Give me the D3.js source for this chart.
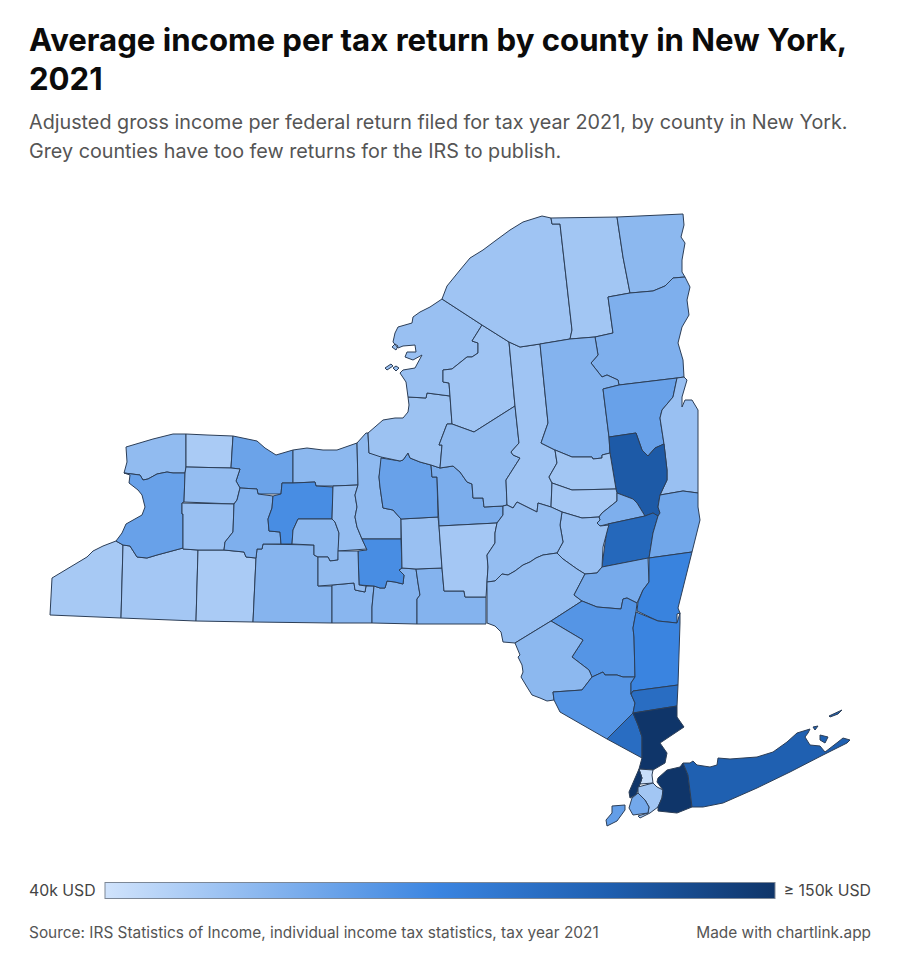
<!DOCTYPE html>
<html>
<head>
<meta charset="utf-8">
<title>Average income per tax return by county in New York, 2021</title>
<script src="https://cdnjs.cloudflare.com/ajax/libs/d3/7.8.5/d3.min.js"></script>
<style>
html, body { margin: 0; padding: 0; background: #fff; }
svg { display: block; font-family: Inter, "Noto Sans", sans-serif; }
</style>
</head>
<body>
<svg id="chart" width="900" height="956"></svg>
<script>
// county values, thousand USD per return
var countyValues = {
    Chautauqua: 55, Cattaraugus: 56, Allegany: 54, Steuben: 67, Chemung: 66, Tioga: 68, Broome: 68,
    Niagara: 63, Orleans: 54, Monroe: 77, Wayne: 65, Erie: 78, Genesee: 62, Wyoming: 60, Livingston: 70,
    Ontario: 90, Yates: 65, Seneca: 62, Cayuga: 64, Tompkins: 90, Schuyler: 63, Cortland: 60, Onondaga: 78,
    Madison: 71, Chenango: 56, Oswego: 59, Jefferson: 60, Lewis: 58, Oneida: 63, Herkimer: 58,
    StLawrence: 58, Franklin: 57, Clinton: 65, Essex: 70, Hamilton: 68, Warren: 78, Washington: 60,
    Saratoga: 126, Fulton: 57, Montgomery: 56, Schenectady: 70, Albany: 116, Rensselaer: 75, Schoharie: 60,
    Otsego: 62, Delaware: 62, Greene: 73, Columbia: 96, Ulster: 85, Sullivan: 65, Orange: 85, Dutchess: 95,
    Putnam: 112, Rockland: 112, Westchester: 155, Bronx: 43, Manhattan: 160, Queens: 57, Brooklyn: 74,
    Richmond: 80, Nassau: 155, Suffolk: 122
};

// county outlines in map units
var countyRings = {
    Chautauqua: [[[116,541],[103,546],[93,551],[87,557],[52,578],[50,615],[121,618],[123,545]]],
    Cattaraugus: [[[123,545],[130,546],[137,557],[147,558],[157,555],[183,548],[183,549],[198,550],[196,621],[121,618]]],
    Allegany: [[[198,550],[224,550],[244,552],[246,557],[256,558],[253,622],[196,621]]],
    Steuben: [[[263,544],[314,545],[314,555],[318,557],[318,586],[332,586],[332,623],[253,622],[256,558],[257,549],[262,549]]],
    Chemung: [[[332,585],[354,583],[355,590],[365,592],[366,586],[374,586],[372,607],[372,623],[332,623]]],
    Tioga: [[[402,568],[416,569],[418,583],[420,595],[417,599],[417,624],[372,623],[372,607],[374,586],[380,588],[385,588],[387,581],[395,582],[403,584],[404,575],[399,570]]],
    Broome: [[[416,569],[442,568],[444,591],[464,591],[465,597],[486,597],[486,624],[417,624],[417,599],[420,595],[418,583]]],
    Niagara: [[[126,447],[153,439],[173,434],[186,434],[186,467],[185,473],[173,473],[167,472],[157,474],[148,479],[143,480],[140,475],[124,473],[127,462]]],
    Orleans: [[[186,434],[207,435],[233,436],[231,468],[186,467]]],
    Monroe: [[[233,436],[257,441],[265,448],[276,455],[293,450],[293,483],[282,483],[281,494],[258,494],[257,489],[240,488],[236,481],[240,469],[231,468]]],
    Wayne: [[[293,450],[307,448],[323,450],[337,450],[357,443],[358,485],[333,486],[316,486],[315,482],[293,483]]],
    Erie: [[[124,473],[140,475],[143,480],[148,479],[157,474],[167,472],[173,473],[185,473],[184,502],[182,503],[182,514],[183,514],[183,548],[157,555],[147,558],[137,557],[130,546],[123,545],[116,541],[122,533],[126,524],[142,515],[145,507],[142,495],[138,490],[129,483],[130,475]]],
    Genesee: [[[186,467],[231,468],[240,469],[236,481],[240,488],[237,500],[234,504],[184,502],[185,473]]],
    Wyoming: [[[182,503],[234,504],[233,532],[225,542],[224,550],[198,550],[183,549],[183,514],[182,514]]],
    Livingston: [[[240,488],[257,489],[258,494],[273,496],[272,508],[268,519],[269,531],[280,532],[281,544],[263,544],[262,549],[257,549],[256,558],[246,557],[244,552],[224,550],[225,542],[233,532],[234,504],[237,500]]],
    Ontario: [[[282,483],[293,483],[315,482],[316,486],[333,487],[332,519],[298,519],[293,530],[292,544],[281,544],[280,532],[269,531],[268,519],[272,508],[273,496],[281,494]]],
    Yates: [[[298,519],[332,519],[335,522],[339,533],[338,560],[330,561],[328,557],[318,557],[314,555],[314,545],[292,544],[293,530]]],
    Seneca: [[[333,486],[358,485],[355,495],[357,507],[355,517],[357,527],[362,539],[367,549],[338,551],[339,533],[335,522],[332,519]]],
    Cayuga: [[[357,443],[366,433],[368,433],[369,453],[381,455],[382,458],[379,477],[380,487],[383,508],[393,510],[401,519],[401,539],[362,539],[357,527],[355,517],[357,507],[355,495],[358,485]]],
    Tompkins: [[[362,539],[401,539],[402,568],[399,570],[404,575],[403,584],[395,582],[387,581],[385,588],[380,588],[374,586],[359,585],[358,551],[367,550]]],
    Schuyler: [[[338,551],[358,551],[359,585],[366,586],[365,592],[355,590],[354,583],[332,585],[318,586],[318,557],[328,557],[330,561],[338,560]]],
    Cortland: [[[401,519],[438,517],[439,526],[442,568],[416,569],[402,568]]],
    Onondaga: [[[381,458],[400,461],[403,460],[408,453],[410,458],[420,462],[431,465],[432,477],[437,477],[438,517],[401,519],[393,510],[383,508],[380,487],[379,477]]],
    Madison: [[[431,465],[440,468],[453,466],[460,472],[467,482],[472,484],[473,498],[483,498],[484,507],[503,506],[503,515],[497,523],[439,526],[437,477],[432,477]]],
    Chenango: [[[439,526],[497,523],[495,533],[495,543],[487,555],[488,567],[487,582],[486,597],[465,597],[464,591],[444,591],[442,568]]],
    Oswego: [[[368,433],[383,420],[395,418],[403,418],[408,412],[409,405],[408,397],[426,398],[427,393],[450,396],[452,424],[447,424],[439,445],[442,445],[440,468],[431,465],[420,462],[410,458],[408,453],[403,460],[400,461],[381,457],[369,453]]],
    Jefferson: [[[442,299],[430,307],[420,312],[413,317],[412,323],[398,327],[395,333],[393,342],[398,348],[403,346],[415,345],[416,352],[407,352],[405,357],[413,360],[422,355],[415,368],[403,370],[400,373],[406,382],[408,397],[426,398],[427,393],[450,396],[449,383],[443,382],[443,370],[452,369],[467,357],[472,357],[478,353],[478,343],[472,341],[482,325]],
        [[385,368],[391,364],[393,366],[387,370]], [[393,368],[396,366],[399,368],[396,371]], [[392,347],[395,344],[398,346],[396,350]]],
    Lewis: [[[482,325],[509,342],[515,406],[474,432],[452,424],[450,396],[449,383],[443,382],[443,370],[452,369],[467,357],[472,357],[478,353],[478,343],[472,341]]],
    Oneida: [[[447,424],[452,424],[474,432],[515,406],[519,443],[511,452],[513,455],[520,458],[506,480],[507,505],[503,506],[484,507],[483,498],[473,498],[472,484],[467,482],[460,472],[453,466],[440,468],[442,445],[439,445]]],
    Herkimer: [[[509,342],[520,347],[540,344],[548,423],[541,443],[555,450],[557,463],[549,477],[552,483],[551,507],[538,503],[537,512],[517,502],[513,508],[507,505],[506,480],[520,458],[513,455],[511,452],[519,443],[515,406]]],
    StLawrence: [[[442,299],[447,286],[460,270],[470,258],[483,250],[495,241],[510,230],[523,222],[542,216],[551,218],[552,224],[560,224],[572,330],[570,339],[540,344],[520,347],[509,342],[482,325]]],
    Franklin: [[[551,218],[617,217],[623,257],[630,293],[608,297],[613,333],[595,337],[570,339],[572,330],[560,224],[552,224]]],
    Clinton: [[[617,217],[683,214],[684,225],[681,237],[685,243],[682,260],[682,272],[685,277],[673,278],[665,286],[653,291],[630,293],[623,257]]],
    Essex: [[[608,297],[630,293],[653,291],[665,286],[673,278],[685,277],[690,287],[687,300],[689,315],[682,327],[678,343],[683,360],[684,377],[677,378],[619,385],[618,380],[607,375],[602,377],[591,363],[598,355],[595,337],[613,333]]],
    Hamilton: [[[540,344],[570,339],[595,337],[598,355],[591,363],[602,377],[607,375],[618,380],[619,385],[603,389],[609,437],[610,453],[602,455],[602,458],[593,459],[592,457],[572,457],[555,450],[541,443],[548,423]]],
    Warren: [[[603,389],[619,385],[677,378],[673,397],[662,410],[660,418],[664,444],[655,448],[648,456],[642,450],[636,433],[609,437]]],
    Washington: [[[677,378],[684,377],[687,380],[682,397],[682,407],[685,400],[692,400],[698,410],[698,493],[683,491],[660,495],[667,480],[667,470],[664,444],[660,418],[662,410],[673,397]]],
    Saratoga: [[[609,437],[636,433],[642,450],[648,456],[655,448],[664,444],[667,470],[667,480],[660,495],[658,507],[660,513],[658,516],[653,513],[645,516],[637,503],[633,499],[617,493],[616,489],[610,453]]],
    Fulton: [[[555,450],[572,457],[592,457],[593,459],[602,458],[602,455],[610,453],[616,489],[572,490],[552,483],[549,477],[557,463]]],
    Montgomery: [[[552,483],[572,490],[616,489],[617,493],[617,501],[602,513],[599,517],[582,518],[562,512],[551,507]]],
    Schenectady: [[[617,493],[633,499],[637,503],[645,516],[608,524],[600,526],[597,523],[600,520],[599,517],[602,513],[617,501]]],
    Albany: [[[608,524],[645,516],[653,513],[658,516],[653,533],[649,558],[602,567],[605,543]]],
    Rensselaer: [[[660,495],[683,491],[698,493],[698,507],[700,520],[692,552],[649,558],[653,533],[658,516],[660,513],[658,507]]],
    Schoharie: [[[562,512],[582,518],[599,517],[600,520],[597,523],[600,526],[609,525],[608,528],[603,547],[602,567],[597,573],[585,574],[577,569],[563,559],[557,553],[563,542],[560,525]]],
    Otsego: [[[517,502],[537,512],[538,503],[551,507],[562,512],[560,525],[563,542],[557,553],[550,554],[543,555],[536,558],[530,562],[523,565],[515,571],[508,575],[502,574],[495,581],[487,582],[488,567],[487,555],[495,543],[495,533],[497,523],[503,515],[503,506],[507,505],[513,508]]],
    Delaware: [[[487,582],[495,581],[502,574],[508,575],[515,571],[523,565],[530,562],[536,558],[543,555],[550,554],[557,553],[563,559],[577,569],[585,574],[574,595],[582,601],[551,621],[515,643],[503,642],[501,632],[495,626],[487,623]]],
    Greene: [[[602,567],[648,558],[649,582],[643,590],[637,603],[627,598],[623,599],[621,609],[597,607],[582,601],[574,595],[585,574],[597,573]]],
    Columbia: [[[649,558],[692,552],[678,608],[680,613],[677,614],[677,623],[658,621],[637,611],[638,602],[643,590],[649,582]]],
    Ulster: [[[582,601],[597,607],[621,609],[623,599],[627,598],[637,603],[636,612],[633,628],[634,637],[635,677],[623,677],[617,675],[605,675],[603,672],[592,677],[589,670],[572,657],[583,640],[551,621]]],
    Sullivan: [[[551,621],[583,640],[572,657],[589,670],[592,677],[582,690],[553,692],[554,700],[547,701],[540,698],[532,695],[527,687],[521,677],[523,672],[522,665],[518,657],[520,655],[515,643]]],
    Orange: [[[553,692],[582,690],[592,677],[603,672],[605,675],[617,675],[623,677],[635,677],[631,683],[631,694],[635,703],[633,713],[607,739],[560,712],[554,700]]],
    Dutchess: [[[636,612],[658,621],[677,623],[680,613],[680,623],[678,685],[633,691],[631,694],[631,683],[635,677],[634,637],[633,628]]],
    Putnam: [[[633,691],[678,685],[677,706],[633,713],[635,703],[631,694]]],
    Rockland: [[[633,713],[607,739],[642,758],[642,737],[638,725]]],
    Westchester: [[[633,713],[677,706],[677,717],[684,727],[660,743],[667,753],[665,763],[653,770],[639,769],[642,758],[642,737],[638,725]]],
    Bronx: [[[639,769],[653,770],[652,775],[653,783],[640,784],[642,778]]],
    Manhattan: [[[639,769],[642,778],[640,784],[636,795],[630,798],[629,792]]],
    Queens: [[[638,787],[653,783],[657,787],[663,790],[662,798],[658,807],[650,813],[640,818],[638,816],[648,813],[649,807],[645,800],[638,793]]],
    Brooklyn: [[[638,793],[645,800],[649,807],[648,813],[633,815],[629,808],[632,798]]],
    Richmond: [[[612,806],[625,805],[625,810],[617,821],[607,826],[606,820],[612,813]]],
    Nassau: [[[657,782],[658,778],[667,770],[680,767],[683,763],[688,775],[692,807],[677,813],[658,811],[658,807],[662,798],[663,790]]],
    Suffolk: [[[683,763],[690,763],[693,761],[697,765],[710,767],[717,765],[718,758],[730,759],[757,757],[773,752],[787,742],[797,733],[810,729],[808,733],[805,737],[810,745],[820,746],[825,752],[838,742],[843,738],[850,740],[847,743],[823,755],[790,772],[757,788],[723,803],[703,807],[692,807],[688,775]],
        [[820,735],[828,737],[825,743],[820,740]], [[813,727],[818,726],[815,730]], [[829,716],[842,710],[838,714],[830,717]]]
};

var legendDomain = [40, 95, 122.5, 150];
var legendColors = ["#d0e3fc", "#3a84e0", "#1f5fb0", "#0f3569"];
var titleLines = ["Average income per tax return by county in New York,", "2021"];
var subtitleLines = ["Adjusted gross income per federal return filed for tax year 2021, by county in New York.",
    "Grey counties have too few returns for the IRS to publish."];

var svg = d3.select("#chart");
var color = d3.scaleLinear().domain(legendDomain).range(legendColors).clamp(true);

// map units are already page pixels
var projection = d3.geoIdentity().scale(1).translate([0, 0]);
var path = d3.geoPath(projection);

var features = Object.keys(countyRings).map(function (name) {
    return {
        type: "Feature",
        properties: { name: name, value: countyValues[name] },
        // geojson rings have to be closed, the stream drops the last point
        geometry: { type: "MultiPolygon", coordinates: countyRings[name].map(function (r) { return [r.concat([r[0]])]; }) }
    };
});

svg.append("g").selectAll("path").data(features).enter().append("path")
    .attr("d", path)
    .attr("fill", function (d) { return color(d.properties.value); })
    .attr("stroke", "#2c3e57")
    .attr("stroke-width", 1)
    .attr("stroke-linejoin", "round");

svg.append("g").selectAll("text").data(titleLines).enter().append("text")
    .attr("x", 29).attr("y", function (d, i) { return 51 + i * 38.5; })
    .attr("font-size", 31.15).attr("font-weight", 700).attr("fill", "#0b0b0b")
    .text(function (d) { return d; });

svg.append("g").selectAll("text").data(subtitleLines).enter().append("text")
    .attr("x", 29).attr("y", function (d, i) { return 129 + i * 29; })
    .attr("font-size", 19.75).attr("fill", "#555")
    .text(function (d) { return d; });

// legend
var legendScale = d3.scaleLinear().domain([legendDomain[0], legendDomain[3]]).range([105, 775]);
var grad = svg.append("defs").append("linearGradient").attr("id", "legendGrad");
grad.selectAll("stop").data(legendDomain).enter().append("stop")
    .attr("offset", function (d) { return (d - legendDomain[0]) / (legendDomain[3] - legendDomain[0]); })
    .attr("stop-color", function (d) { return color(d); });
svg.append("rect")
    .attr("x", legendScale.range()[0]).attr("y", 882.5)
    .attr("width", legendScale.range()[1] - legendScale.range()[0]).attr("height", 16)
    .attr("fill", "url(#legendGrad)").attr("stroke", "#7c8796").attr("stroke-width", 1);

svg.append("text").attr("x", 29).attr("y", 896).attr("font-size", 15.8).attr("fill", "#444").text("40k USD");
svg.append("text").attr("x", 871).attr("y", 896).attr("text-anchor", "end").attr("font-size", 15.8).attr("fill", "#444").text("\u2265 150k USD");
svg.append("text").attr("x", 29).attr("y", 938).attr("font-size", 15.42).attr("fill", "#555")
    .text("Source: IRS Statistics of Income, individual income tax statistics, tax year 2021");
svg.append("text").attr("x", 871).attr("y", 938).attr("text-anchor", "end").attr("font-size", 15.42).attr("fill", "#555")
    .text("Made with chartlink.app");
</script>
</body>
</html>
